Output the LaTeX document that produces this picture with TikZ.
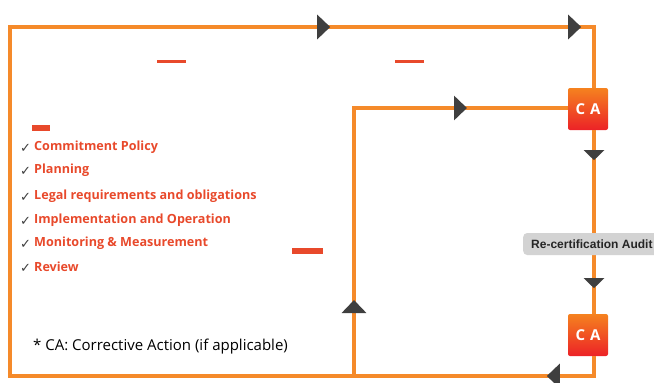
\documentclass[tikz,border=0pt]{standalone}
\usepackage{fontspec}
\setmainfont{Open Sans}
\newfontfamily\arialfont{Liberation Sans}
\newfontfamily\symfont{DejaVu Sans}
\usetikzlibrary{arrows.meta, positioning, calc, decorations.markings}
\definecolor{lineorange}{HTML}{F58A2A}
\definecolor{caorange}{HTML}{F5821F}
\definecolor{cared}{HTML}{EC2227}
\definecolor{textred}{HTML}{E8492B}
\definecolor{tipgray}{HTML}{3F3F3F}
\definecolor{labelgray}{HTML}{D3D3D3}
\tikzset{
   myline/.style={draw=lineorange, line width=3.5pt},
   mytip/.style={postaction={decorate, decoration={markings,
      mark=at position #1 with {\arrow[tipgray]{Triangle[width=24pt,length=13pt]}}}}},
   mysmalltip/.style={postaction={decorate, decoration={markings,
      mark=at position #1 with {\arrow[tipgray]{Triangle[width=20pt,length=10pt]}}}}},
   myca/.style={rounded corners=2pt, top color=caorange, bottom color=cared,
      minimum width=40pt, minimum height=42pt, inner sep=0pt,
      text=white, font=\fontsize{15}{17}\selectfont\bfseries},
   myitem/.style={anchor=west, inner sep=0pt, text=textred,
      font=\fontsize{12.6}{15}\selectfont\bfseries},
   mycheck/.style={anchor=west, inner sep=0pt, text=tipgray,
      font=\symfont\fontsize{13}{15}\selectfont},
   mylabel/.style={anchor=west, fill=labelgray, rounded corners=4pt, text=black!85,
      inner xsep=8pt, minimum height=22pt, font=\arialfont\fontsize{12}{14}\selectfont\bfseries}
}
\begin{document}
\begin{tikzpicture}[x=1pt, y=-1pt]
   \useasboundingbox (0,0) rectangle (654,383);
   % corners of the loops
   \coordinate (tl) at (10,27);
   \coordinate (tr) at (594,27);
   \coordinate (bl) at (10,376);
   \coordinate (br) at (594,376);
   \coordinate (ib) at (354,376);
   \coordinate (it) at (354,108);
   \node[myca] (ca1) at (588,109) {C\hspace{5pt}A};
   \node[myca] (ca2) at (588,335) {C\hspace{5pt}A};
   % outer loop
   \draw[myline, mytip=67pt, mytip=1273pt, mytip=1524pt]
      (ca2.south -| br) -- (br) -- (bl) -- (tl) -- (tr) -- (ca1.north -| tr);
   \draw[myline, mysmalltip=30pt, mysmalltip=158pt] (ca1.south -| tr) -- (ca2.north -| tr);
   \node[mylabel] (recert) at (523,244) {Re-certification Audit};
   % inner loop
   \draw[myline, mytip=76pt, mytip=381pt] (ib) -- (it) -- (it -| ca1.west);
   % list
   \foreach \y/\txt [count=\i] in {147/Commitment Policy, 170/Planning,
      196/Legal requirements and obligations, 220/Implementation and Operation,
      243/Monitoring \& Measurement, 267/Review} {
      \node[mycheck] (check\i) at (20,\y+1) {✓};
      \node[myitem] (item\i) at (34,\y) {\txt};
   }
   \node[anchor=west, inner sep=0pt, font=\fontsize{15}{17}\selectfont] (note) at (33,347)
      {* CA: Corrective Action (if applicable)};
   % red leftovers
   \fill[textred] (157,60) rectangle (186,63);
   \fill[textred] (395,60) rectangle (424,63);
   \fill[textred] (32,125) rectangle (50,131);
   \fill[textred] (292,248) rectangle (323,254);
\end{tikzpicture}
\end{document}
